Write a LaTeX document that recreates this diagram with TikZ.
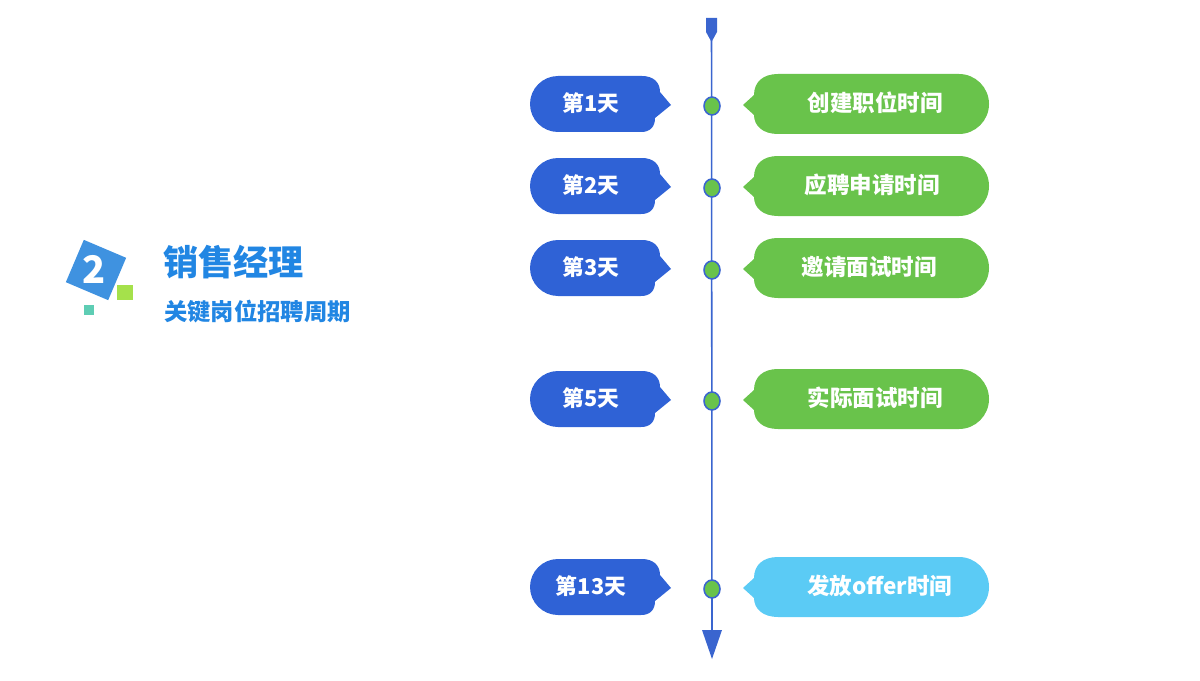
\documentclass[tikz,border=0pt]{standalone}
\usepackage{fontspec}
\newfontfamily\cjk{Noto Sans CJK SC}
\definecolor{tlblue}{HTML}{2F62D6}
\definecolor{tlline}{HTML}{3A65CF}
\definecolor{tlgreen}{HTML}{69C34B}
\definecolor{tlsky}{HTML}{5BCBF5}
\definecolor{ttlblue}{HTML}{2186E3}
\definecolor{iconblue}{HTML}{3F92E0}
\definecolor{iconlime}{HTML}{A5E14B}
\definecolor{iconteal}{HTML}{5ECDB4}
\tikzset{
  daytxt/.style={text=white,font=\cjk\bfseries\fontsize{15.5pt}{18pt}\selectfont,inner sep=0pt},
  evtxt/.style={text=white,font=\cjk\bfseries\fontsize{16pt}{19pt}\selectfont,inner sep=0pt},
  dot/.style={draw=tlline,line width=1.1pt,fill=tlgreen},
}
\begin{document}
\begin{tikzpicture}[x=0.025cm,y=0.025cm]
\useasboundingbox (0,0) rectangle (1200,680);
% icon
\fill[iconblue,rotate around={-23:(96,410)}] (73,387) rectangle (119,433);
\fill[iconlime] (117,380) rectangle (133,395);
\fill[iconteal] (84,365) rectangle (94,375);
\node[text=white,font=\cjk\bfseries\fontsize{27pt}{30pt}\selectfont,inner sep=0pt] (num) at (94,411) {2};
\node[anchor=west,text=ttlblue,font=\cjk\bfseries\fontsize{25pt}{29pt}\selectfont,inner sep=0pt] (title) at (163,418) {销售经理};
\node[anchor=west,text=ttlblue,font=\cjk\bfseries\fontsize{16.6pt}{19pt}\selectfont,inner sep=0pt] (sub) at (164,368) {关键岗位招聘周期};
% timeline
\fill[tlline] (706,662) -- (717,662) -- (717,648) -- (711.5,638) -- (706,648) -- cycle;
\coordinate (top) at (711.5,640);
\coordinate (bot) at (712,50);
\draw[tlline,line width=1.1pt] (top) -- (bot);
\fill[tlline] (702,50) -- (722,50) -- (712,21) -- cycle;
% rows
\foreach \cy/\day/\col/\nm in {576/第1天/tlgreen/a,494/第2天/tlgreen/b,412/第3天/tlgreen/c,281/第5天/tlgreen/d,93/第13天/tlsky/e}{
  \fill[tlblue] (558,\cy+28) -- (642,\cy+28) .. controls (653,\cy+28) and (660,\cy+22) .. (660,\cy+12) -- (671,\cy-1) -- (655,\cy-14) .. controls (655,\cy-23) and (650,\cy-28) .. (641,\cy-28) -- (558,\cy-28) .. controls (542.6,\cy-28) and (530,\cy-15.4) .. (530,\cy) .. controls (530,\cy+15.4) and (542.6,\cy+28) .. (558,\cy+28) -- cycle;
  \fill[\col] (743,\cy-1) -- (754,\cy+9) .. controls (754,\cy+22) and (763,\cy+30) .. (778,\cy+30) -- (959,\cy+30) .. controls (975.5,\cy+30) and (989,\cy+16.5) .. (989,\cy) .. controls (989,\cy-16.5) and (975.5,\cy-30) .. (959,\cy-30) -- (778,\cy-30) .. controls (763,\cy-30) and (754,\cy-22) .. (754,\cy-11) -- cycle;
  \draw[dot] (712,\cy-2) ellipse [x radius=8,y radius=9];
  \node[daytxt] (d\nm) at (591,\cy+1) {\day};
}
\node[evtxt] (ea) at (875,577) {创建职位时间};
\node[evtxt] (eb) at (872,495) {应聘申请时间};
\node[evtxt] (ec) at (869,413) {邀请面试时间};
\node[evtxt] (ed) at (875,282) {实际面试时间};
\node[evtxt,anchor=west] (ee) at (807,94) {发放offer时间};
\end{tikzpicture}
\end{document}
